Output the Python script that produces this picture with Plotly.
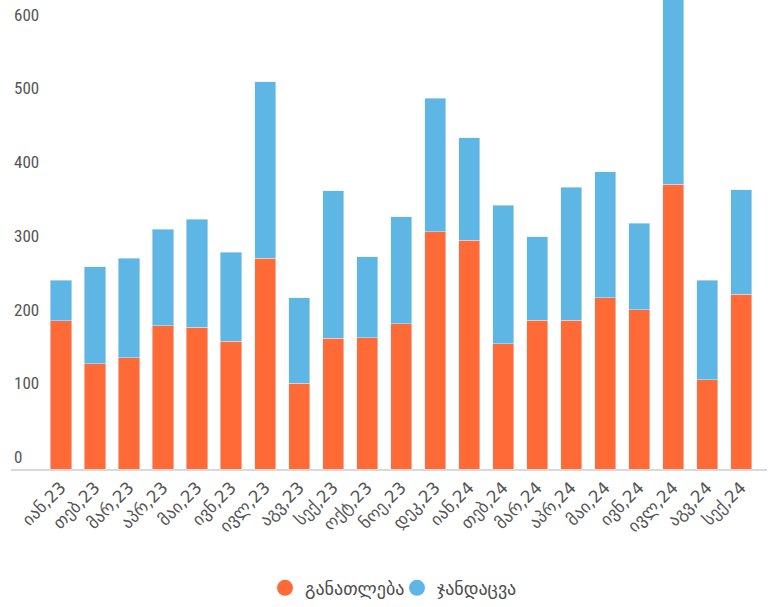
import plotly.graph_objects as go

# months (Georgian abbreviations)
months = ['იან,23', 'თებ,23', 'მარ,23', 'აპრ,23', 'მაი,23', 'ივნ,23', 'ივლ,23',
          'აგვ,23', 'სექ,23', 'ოქტ,23', 'ნოე,23', 'დეკ,23', 'იან,24', 'თებ,24',
          'მარ,24', 'აპრ,24', 'მაი,24', 'ივნ,24', 'ივლ,24', 'აგვ,24', 'სექ,24']

education = [201, 143, 151, 194, 192, 173, 286, 116, 177, 178, 197,
             322, 310, 170, 202, 202, 232, 216, 386, 121, 237]
health = [55, 131, 135, 131, 147, 121, 239, 116, 200, 110, 145,
          181, 139, 188, 113, 180, 171, 117, 254, 135, 142]

names = ['განათლება', 'ჯანდაცვა']
colors = ['#ff6a37', '#5eb6e4']

num_font = "Liberation Sans Narrow, Roboto Condensed, DejaVu Sans Condensed, sans-serif"
geo_font = "DejaVu Sans, sans-serif"

fig = go.Figure()
fig.add_trace(go.Bar(x=months, y=education, name=names[0], marker_color=colors[0],
                     showlegend=False))
fig.add_trace(go.Bar(x=months, y=health, name=names[1], marker_color=colors[1],
                     showlegend=False))

# legend entries with round markers
for nm, c in zip(names, colors):
    fig.add_trace(go.Scatter(x=[None], y=[None], mode='markers', name=nm,
                             marker=dict(color=c, size=18, symbol='circle')))

fig.update_layout(
    barmode='stack',
    bargap=0.38,
    width=773, height=607,
    margin=dict(l=11, r=6, t=0, b=134),
    plot_bgcolor='white', paper_bgcolor='white',
    legend=dict(orientation='h', x=0.336, xanchor='left', y=-0.254, yanchor='middle',
                font=dict(family=geo_font, size=18, color='#4d4d4d'),
                traceorder='normal', itemwidth=30, entrywidth=87, tracegroupgap=0),
)
fig.update_xaxes(range=[-1.47, 20.76], tickangle=-45, showline=True, linecolor='#d9d9d9',
                 linewidth=2, showgrid=False, ticks='',
                 tickfont=dict(family=geo_font, size=17, color='#555555'))
fig.update_yaxes(range=[0, 636], tickvals=[0, 100, 200, 300, 400, 500, 600],
                 showgrid=False, zeroline=False, ticklabelposition='inside top',
                 tickfont=dict(family=num_font, size=17, color='#555555'))

# drop the default body margin so the chart fills the window
fig.write_html("out.html", config={'displayModeBar': False},
               post_script="document.body.style.margin='0px';")
